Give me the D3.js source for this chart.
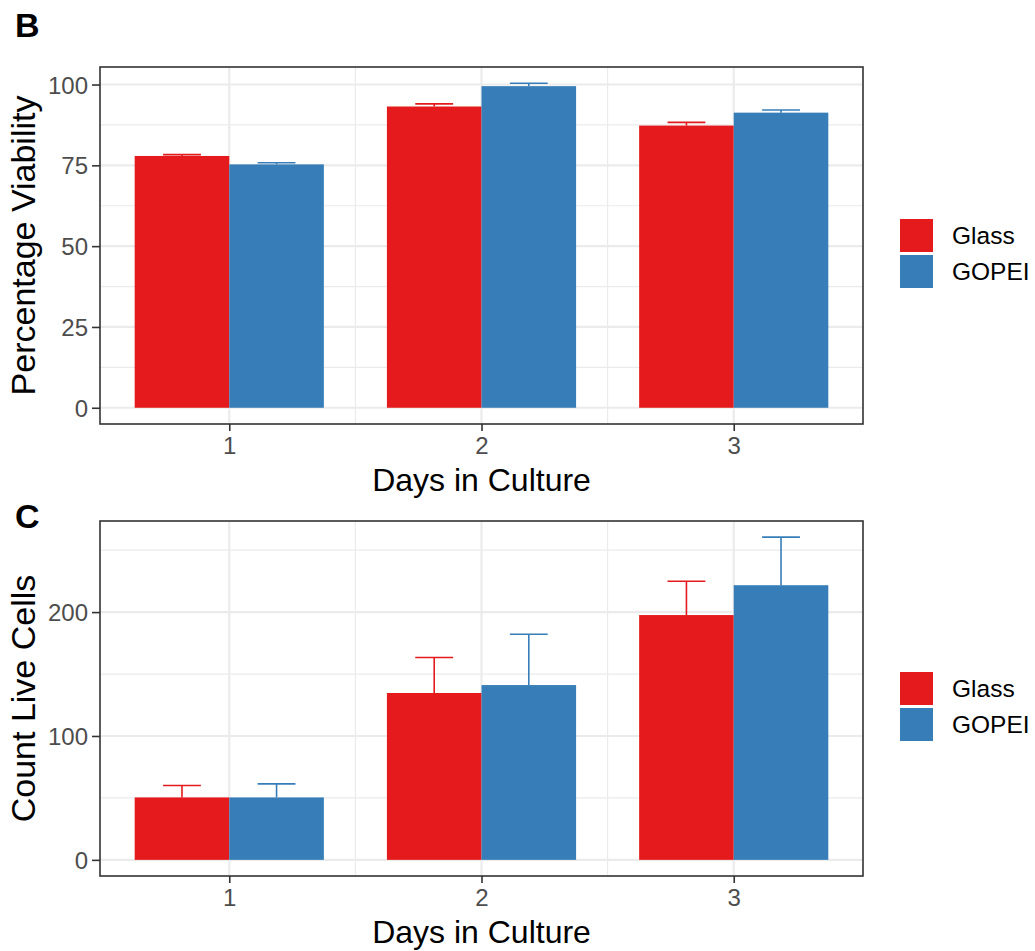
<!DOCTYPE html>
<html>
<head>
<meta charset="utf-8">
<script src="https://cdn.jsdelivr.net/npm/d3@7"></script>
<style>
  html, body { margin: 0; padding: 0; background: #ffffff; }
  svg { display: block; font-family: "Liberation Sans", Arial, sans-serif; }
</style>
</head>
<body>
<svg id="chart" width="1035" height="951"></svg>
<script>
// Days in culture and surface groups
const days = ["1", "2", "3"];
const groups = ["Glass", "GOPEI"];
const groupColors = ["#E41A1C", "#377EB8"];

// Panel B: percentage viability (mean and SD)
const viabilityGlass = [77.9, 93.2, 87.3];
const viabilityGlassSd = [0.4, 0.8, 1.0];
const viabilityGopei = [75.3, 99.5, 91.3];
const viabilityGopeiSd = [0.5, 0.9, 0.8];
const viabilityTicks = [0, 25, 50, 75, 100];

// Panel C: count of live cells (mean and SD)
const countGlass = [50.4, 134.7, 197.6];
const countGlassSd = [9.6, 28.6, 27.3];
const countGopei = [50.4, 141.1, 221.7];
const countGopeiSd = [10.9, 41.0, 38.8];
const countTicks = [0, 100, 200];

const svg = d3.select("#chart");

function drawPanel(opts) {
  const { letter, letterY, top, bottom, left, right, means, sds, ticks, yTitle } = opts;

  // rows: one per day x group
  const rows = [];
  days.forEach((d, i) => {
    groups.forEach((g, j) => {
      rows.push({ day: d, group: g, gi: j, mean: means[j][i], sd: sds[j][i] });
    });
  });

  // continuous x positions: day index 1..3, bars span 0.75 per day, 5% expansion
  const dodge = 0.75;
  const xLo = 1 - dodge / 2, xHi = days.length + dodge / 2;
  const xPad = (xHi - xLo) * 0.05;
  const x = d3.scaleLinear().domain([xLo - xPad, xHi + xPad]).range([left, right]);

  const yMax = d3.max(rows, r => r.mean + r.sd);
  const yPad = yMax * 0.05;
  const y = d3.scaleLinear().domain([-yPad, yMax + yPad]).range([bottom, top]);

  const g = svg.append("g");

  // minor gridlines
  const minorY = ticks.slice(0, -1).map((t, i) => (t + ticks[i + 1]) / 2);
  const stepY = ticks[1] - ticks[0];
  const lastMinor = ticks[ticks.length - 1] + stepY / 2;
  if (lastMinor < y.domain()[1]) minorY.push(lastMinor);
  const minorX = [1.5, 2.5];
  g.selectAll(".minor-y").data(minorY).join("line")
    .attr("x1", left).attr("x2", right)
    .attr("y1", d => y(d)).attr("y2", d => y(d))
    .attr("stroke", "#EBEBEB").attr("stroke-width", 1.2);
  g.selectAll(".minor-x").data(minorX).join("line")
    .attr("y1", top).attr("y2", bottom)
    .attr("x1", d => x(d)).attr("x2", d => x(d))
    .attr("stroke", "#EBEBEB").attr("stroke-width", 1.2);

  // major gridlines
  g.selectAll(".major-y").data(ticks).join("line")
    .attr("x1", left).attr("x2", right)
    .attr("y1", d => y(d)).attr("y2", d => y(d))
    .attr("stroke", "#EBEBEB").attr("stroke-width", 2.2);
  g.selectAll(".major-x").data(days.map((d, i) => i + 1)).join("line")
    .attr("y1", top).attr("y2", bottom)
    .attr("x1", d => x(d)).attr("x2", d => x(d))
    .attr("stroke", "#EBEBEB").attr("stroke-width", 2.2);

  const barW = dodge / groups.length;
  const barX = r => (days.indexOf(r.day) + 1) - dodge / 2 + r.gi * barW;

  // error bars (upper half), drawn beneath the bars
  const capHalf = barW * 0.2;
  const eb = g.selectAll(".eb").data(rows).join("g")
    .attr("stroke", r => groupColors[r.gi]).attr("stroke-width", 1.6).attr("fill", "none");
  eb.append("line")
    .attr("x1", r => x(barX(r) + barW / 2)).attr("x2", r => x(barX(r) + barW / 2))
    .attr("y1", r => y(r.mean)).attr("y2", r => y(r.mean + r.sd));
  eb.append("line")
    .attr("x1", r => x(barX(r) + barW / 2 - capHalf)).attr("x2", r => x(barX(r) + barW / 2 + capHalf))
    .attr("y1", r => y(r.mean + r.sd)).attr("y2", r => y(r.mean + r.sd));

  // bars
  g.selectAll(".bar").data(rows).join("rect")
    .attr("x", r => x(barX(r)))
    .attr("width", r => x(barX(r) + barW) - x(barX(r)))
    .attr("y", r => y(r.mean))
    .attr("height", r => y(0) - y(r.mean))
    .attr("fill", r => groupColors[r.gi]);

  // panel border
  g.append("rect")
    .attr("x", left).attr("y", top)
    .attr("width", right - left).attr("height", bottom - top)
    .attr("fill", "none").attr("stroke", "#333333").attr("stroke-width", 1.6);

  // y axis ticks and labels
  const yAxis = g.append("g").attr("transform", `translate(${left},0)`)
    .call(d3.axisLeft(y).tickValues(ticks).tickSize(8).tickPadding(4).tickFormat(d3.format("d")));
  yAxis.select(".domain").remove();
  yAxis.selectAll(".tick line").attr("stroke", "#333333").attr("stroke-width", 1.6);
  yAxis.selectAll(".tick text")
    .attr("fill", "#4D4D4D").attr("font-size", 24).attr("dy", "0.36em")
    .attr("font-family", "Liberation Sans, Arial, sans-serif");

  // x axis ticks and labels
  const xAxis = g.append("g").attr("transform", `translate(0,${bottom})`)
    .call(d3.axisBottom(x).tickValues(days.map((d, i) => i + 1)).tickSize(7).tickPadding(6)
      .tickFormat((d, i) => days[i]));
  xAxis.select(".domain").remove();
  xAxis.selectAll(".tick line").attr("stroke", "#333333").attr("stroke-width", 1.6);
  xAxis.selectAll(".tick text")
    .attr("fill", "#4D4D4D").attr("font-size", 24).attr("dy", "0.71em")
    .attr("font-family", "Liberation Sans, Arial, sans-serif");

  // axis titles
  g.append("text")
    .attr("x", (left + right) / 2).attr("y", bottom + 67)
    .attr("text-anchor", "middle").attr("font-size", 32).attr("fill", "#000")
    .text("Days in Culture");
  g.append("text")
    .attr("transform", `translate(35,${(top + bottom) / 2}) rotate(-90)`)
    .attr("text-anchor", "middle").attr("font-size", 34).attr("fill", "#000")
    .text(yTitle);

  // panel letter
  g.append("text")
    .attr("x", 15).attr("y", letterY)
    .attr("font-size", 34).attr("font-weight", "bold").attr("fill", "#000")
    .text(letter);

  // legend
  const keySize = 33;
  const legTop = (top + bottom) / 2 - keySize + 6.5;
  const leg = g.append("g").attr("transform", `translate(900,${legTop})`);
  groups.forEach((name, j) => {
    leg.append("rect")
      .attr("x", 0).attr("y", j * (keySize + 3))
      .attr("width", keySize).attr("height", keySize)
      .attr("fill", groupColors[j]);
    leg.append("text")
      .attr("x", keySize + 19).attr("y", j * (keySize + 3) + keySize / 2)
      .attr("dy", "0.36em").attr("font-size", 24.5).attr("fill", "#000")
      .text(name);
  });
}

drawPanel({
  letter: "B", letterY: 37, top: 67, bottom: 424, left: 100, right: 863,
  means: [viabilityGlass, viabilityGopei], sds: [viabilityGlassSd, viabilityGopeiSd],
  ticks: viabilityTicks, yTitle: "Percentage Viability"
});

drawPanel({
  letter: "C", letterY: 528, top: 521, bottom: 876, left: 100, right: 863,
  means: [countGlass, countGopei], sds: [countGlassSd, countGopeiSd],
  ticks: countTicks, yTitle: "Count Live Cells"
});
</script>
</body>
</html>
